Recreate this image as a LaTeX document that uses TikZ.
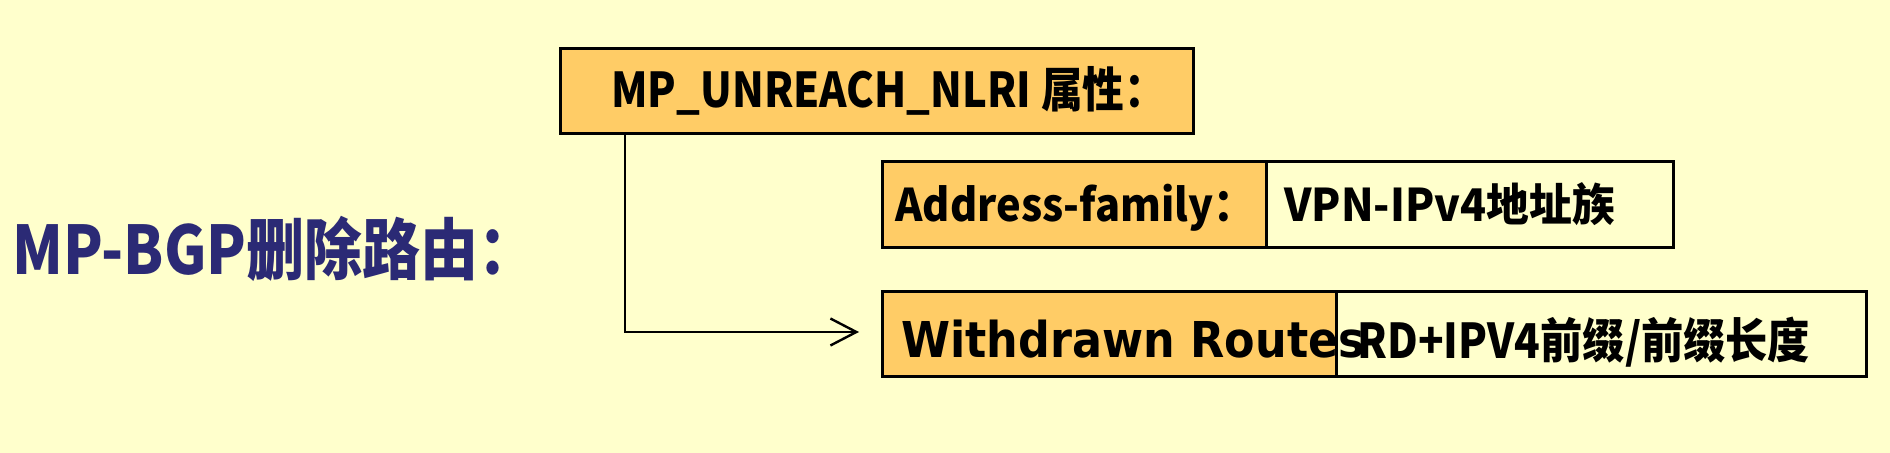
\documentclass[tikz,border=0pt]{standalone}
\usepackage{fontspec}
\newfontfamily\cjk{Noto Sans CJK SC}
\newfontfamily\dejavu{DejaVu Sans}
\usetikzlibrary{arrows.meta}
\definecolor{bgyellow}{HTML}{FFFFCC}
\definecolor{boxorange}{HTML}{FFCC66}
\definecolor{titleblue}{HTML}{2B2A75}
\begin{document}
\begin{tikzpicture}[x=0.5pt,y=-0.5pt,
  boxo/.style={draw=black,line width=1.5pt,fill=boxorange,inner sep=0pt},
  boxw/.style={draw=black,line width=1.5pt,fill=bgyellow,inner sep=0pt},
  lbl/.style={anchor=base west,inner sep=0pt,text=black},
  conn/.style={line width=1.1pt,-{Straight Barb[length=13pt,width=13.5pt,line width=1.2pt]}}]
\fill[bgyellow] (0,0) rectangle (1890,453);
\useasboundingbox (0,0) rectangle (1890,453);
% boxes
\draw[boxo] (560,49) rectangle (1193,134);
\draw[boxo] (882,162) rectangle (1266,248);
\draw[boxw] (1266,162) rectangle (1673,248);
\draw[boxo] (882,292) rectangle (1336,377);
\draw[boxw] (1336,292) rectangle (1866,377);
\coordinate (lineStart) at (625,134);
\coordinate (arrEnd) at (859,332);
% texts
\node[lbl,text=titleblue,font=\cjk\bfseries\fontsize{33.5pt}{40pt}\selectfont] (title) at (12,275) {\scalebox{0.865}[1]{MP-BGP删除路由：}};
\node[lbl,font=\cjk\bfseries\fontsize{24pt}{28pt}\selectfont] (unreach) at (611,108) {\scalebox{0.868}[1]{MP\_UNREACH\_NLRI 属性：}};
\node[lbl,font=\cjk\bfseries\fontsize{22.5pt}{27pt}\selectfont] (af) at (895,222) {\scalebox{0.923}[1]{Address-family：}};
\node[lbl,font=\cjk\bfseries\fontsize{22.5pt}{27pt}\selectfont] (vpn) at (1284,222) {\scalebox{0.95}[1]{VPN-IPv4地址族}};
\node[lbl,font=\dejavu\bfseries\fontsize{24.7pt}{30pt}\selectfont] (wr) at (901,358) {\scalebox{0.9}[1]{Withdrawn Routes}};
\node[lbl,font=\cjk\bfseries\fontsize{24pt}{28pt}\selectfont] (rd) at (1357,359) {\scalebox{0.88}[1]{RD+IPV4前缀/前缀长度}};
% connector
\draw[conn] (lineStart) |- (arrEnd);
\end{tikzpicture}
\end{document}
